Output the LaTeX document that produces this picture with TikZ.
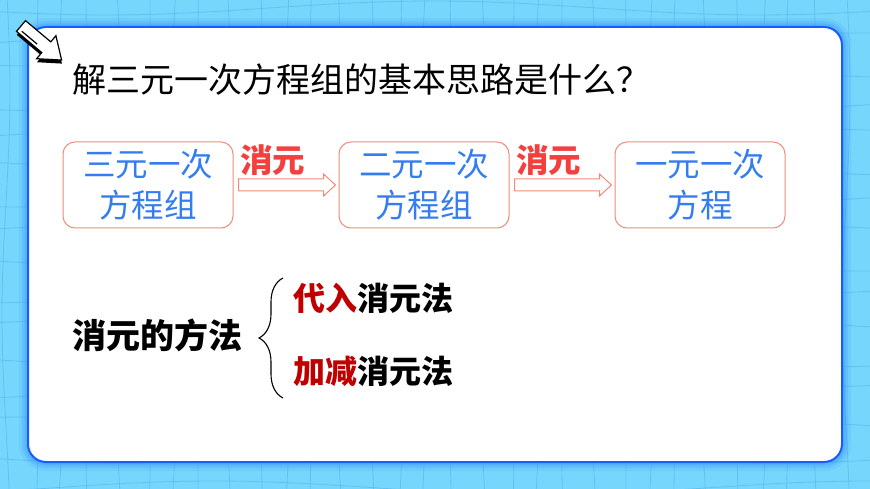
\documentclass[tikz,border=0pt]{standalone}
\usepackage{fontspec}
\newfontfamily\cjk{Noto Sans CJK SC}
\usetikzlibrary{
	positioning				% Boxes placed right of one another
	, calc					% Offsets from node anchors
	, decorations.pathreplacing	% The curly brace
}
\definecolor{skyblue}{RGB}{118,214,252}
\definecolor{gridblue}{RGB}{84,182,236}
\definecolor{panelblue}{RGB}{22,92,255}
\definecolor{glowblue}{RGB}{40,130,250}
\definecolor{salmon}{RGB}{240,140,120}
\definecolor{stepblue}{RGB}{52,125,240}
\definecolor{stepred}{RGB}{245,62,62}
\definecolor{darkred}{RGB}{192,0,0}

\begin{document}
\begin{tikzpicture}[
		x=1pt, y=-1pt
		, font=\cjk
		, gridline/.style={draw=gridblue, line width=0.8pt, opacity=0.6}
		, glow/.style={draw=glowblue, rounded corners=18pt}
		, panel/.style={fill=white, draw=panelblue, line width=2pt, rounded corners=18pt}
		, stepbox/.style={draw=salmon, line width=1pt, rounded corners=12pt, minimum width=170pt, minimum height=86pt, align=center, text=stepblue, font=\cjk\fontsize{32.5}{41}\selectfont}
		, hollow/.style={draw=salmon, fill=white, line width=1pt}
		, elim/.style={text=stepred, font=\cjk\bfseries\fontsize{32.5}{34}\selectfont}
		, bold/.style={font=\cjk\bfseries\fontsize{32}{34}\selectfont, anchor=west, inner sep=0pt}
	]
	\useasboundingbox (0,0) rectangle (870,489);
	
	% Sky blue background with its wavy grid
	\fill[skyblue] (0,0) rectangle (870,489);
	\foreach \y in {8,40,...,489} {
		\draw[gridline] plot[domain=0:870, samples=50, variable=\t] (\t,{\y+7*sin(\t*0.55+\y*4)});
	};
	\foreach \x in {6,34,...,870} {
		\draw[gridline] plot[domain=0:489, samples=30, variable=\t] ({\x+4*sin(\t*0.8+\x*3)},\t);
	};
	
	% Glow round the white panel
	\foreach \w/\o in {18/0.10, 12/0.15, 7/0.22} {
		\draw[glow, line width=\w pt, opacity=\o] (28,27) rectangle (842,462);
	};
	\draw[panel] (28,27) rectangle (842,462);
	
	% Pointer arrow on the corner of the panel
	\begin{scope}[shift={(21,26)}, rotate=-40]
		\fill[black] ($(0,7)+(2.5,2.5)$) -- ++(33,0) -- ++(0,8) -- (55.5,2.5) -- (35.5,-12.5) -- (35.5,-4.5) -- (2.5,-4.5) -- cycle;
		\draw[fill=white, line width=1.2pt, line join=miter] (0,7) -- (33,7) -- (33,15) -- (53,0) -- (33,-15) -- (33,-7) -- (0,-7) -- cycle;
		\draw[line width=1.2pt] (4,3.5) -- (24,3.5);
	\end{scope}
	
	% Question
	\node[anchor=west, inner sep=0pt, font=\cjk\fontsize{34}{36}\selectfont] (question) at (72,80) {解三元一次方程组的基本思路是什么？};
	
	% Three steps of the elimination
	\node[stepbox] (three) at (148,185) {三元一次\\方程组};
	\node[stepbox, right=105pt of three] (two) {二元一次\\方程组};
	\node[stepbox, right=105pt of two] (one) {一元一次\\方程};
	
	% Hollow arrows between the steps
	\foreach \a/\b in {three/two, two/one} {
		\draw[hollow] ($(\a.east)+(5,-6)$) -- ($(\a.east)+(90,-6)$) -- ($(\a.east)+(90,-11)$)
			-- ($(\b.west)+(-3,0)$) -- ($(\a.east)+(90,11)$) -- ($(\a.east)+(90,6)$) -- ($(\a.east)+(5,6)$) -- cycle;
		\node[elim] (elim-\a) at ($(\a.east)+(39,-25)$) {消元};
	};
	
	% Methods of elimination
	\node[bold, font=\cjk\bfseries\fontsize{34}{36}\selectfont] (methods) at (72,335) {消元的方法};
	\node[bold] (subst) at (293,298) {\textcolor{darkred}{代入}消元法};
	\node[bold] (addsub) at (293,371) {\textcolor{darkred}{加减}消元法};
	
	\coordinate (bracetop) at ($(subst.west)+(-10,-20)$);
	\coordinate (bracebot) at ($(addsub.west)+(-10,27)$);
	\draw[line width=1.1pt, decorate, decoration={brace, amplitude=24pt, mirror}] (bracetop) -- (bracebot);
\end{tikzpicture}
\end{document}
